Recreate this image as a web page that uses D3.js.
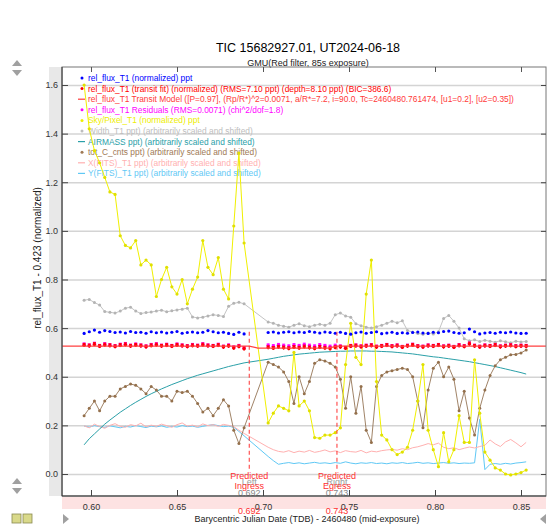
<!DOCTYPE html>
<html>
<head>
<meta charset="utf-8">
<script src="https://cdn.jsdelivr.net/npm/d3@7"></script>
<style>
  body { margin: 0; background: #fff; }
  svg { display: block; font-family: "Liberation Sans", Arial, sans-serif; }
</style>
</head>
<body>
<div id="chart"></div>
<script>
// ---- data ----
const bjd = [
  0.596,0.599,0.602,0.605,0.608,0.611,0.614,0.617,0.620,0.623,
  0.626,0.629,0.632,0.635,0.638,0.641,0.644,0.647,0.650,0.653,
  0.656,0.659,0.662,0.665,0.668,0.671,0.674,0.677,0.680,0.683,
  0.686,0.689,
  0.703,0.706,0.709,0.712,0.715,0.718,0.721,0.724,0.727,0.730,
  0.733,0.736,0.739,0.742,0.745,0.748,0.751,0.754,0.757,0.760,
  0.763,0.766,0.769,0.772,0.775,0.778,0.781,0.784,0.787,0.790,
  0.793,0.796,0.799,0.802,0.805,0.808,0.811,0.814,0.817,0.820,
  0.823,0.826,0.829,0.832,0.835,0.838,0.841,0.844,0.847,0.850,
  0.853
];

const relFlux = [
  0.578,0.585,0.592,0.583,0.590,0.586,0.582,0.584,0.580,0.586,
  0.582,0.583,0.579,0.585,0.581,0.584,0.580,0.583,0.586,0.579,
  0.582,0.584,0.581,0.583,0.590,0.585,0.581,0.583,0.578,0.574,
  0.583,0.576,
  0.582,0.584,0.580,0.583,0.585,0.581,0.584,0.582,0.586,0.583,
  0.580,0.584,0.582,0.579,0.583,0.578,0.575,0.581,0.584,0.579,
  0.582,0.585,0.577,0.580,0.583,0.578,0.581,0.579,0.582,0.584,
  0.580,0.578,0.583,0.581,0.586,0.588,0.582,0.579,0.581,0.596,
  0.585,0.576,0.580,0.582,0.579,0.583,0.581,0.584,0.580,0.578,
  0.579
];

const fitFlux = [
  0.530,0.527,0.533,0.525,0.531,0.528,0.524,0.529,0.532,0.526,
  0.530,0.527,0.523,0.528,0.531,0.526,0.529,0.525,0.530,0.527,
  0.524,0.528,0.526,0.531,0.527,0.525,0.529,0.522,0.526,0.518,
  0.524,0.515,
  0.520,0.517,0.522,0.519,0.516,0.521,0.518,0.523,0.519,0.516,
  0.521,0.518,0.515,0.520,0.522,0.517,0.525,0.527,0.523,0.526,
  0.528,0.522,0.525,0.529,0.524,0.527,0.521,0.526,0.530,0.524,
  0.522,0.527,0.525,0.529,0.523,0.526,0.521,0.528,0.524,0.535,
  0.526,0.522,0.527,0.525,0.529,0.523,0.526,0.528,0.524,0.526,
  0.525
];

const residuals = [
  0.532,0.528,0.535,0.526,0.533,0.529,0.525,0.531,0.534,0.527,
  0.532,0.528,0.524,0.530,0.533,0.527,0.531,0.526,0.532,0.528,
  0.525,0.530,0.527,0.533,0.528,0.526,0.531,0.523,0.528,0.520,
  0.526,0.517,
  0.528,0.525,0.530,0.527,0.524,0.529,0.526,0.531,0.527,0.524,
  0.529,0.526,0.523,0.527,0.524,0.518,0.526,0.528,0.524,0.527,
  0.529,0.523,0.526,0.530,0.525,0.528,0.522,0.527,0.531,0.525,
  0.523,0.528,0.526,0.530,0.524,0.527,0.522,0.529,0.525,0.536,
  0.527,0.523,0.528,0.526,0.530,0.524,0.527,0.529,0.525,0.527,
  0.526
];
const fluxErr = 0.0071;

// transit model (flat, 8.1 ppt deep between ingress and egress)
const modelTime = [0.5832, 0.692, 0.697, 0.738, 0.743, 0.8645];
const modelFlux = [0.526, 0.526, 0.518, 0.518, 0.526, 0.526];

const skyPixel = [
  1.60,1.42,1.33,1.28,1.22,1.16,1.15,0.98,0.94,0.93,
  0.96,0.86,0.88,0.86,0.73,0.80,0.85,0.77,0.74,0.80,
  0.70,0.76,0.81,0.96,0.85,0.82,0.89,0.76,0.72,1.02,
  1.32,0.95,
  0.21,0.25,0.28,0.27,0.26,0.50,0.28,0.30,0.26,0.15,
  0.147,0.16,0.16,0.17,0.19,0.45,0.62,0.48,0.45,0.74,
  0.88,0.38,0.16,0.14,0.10,0.08,0.09,0.11,0.18,0.30,
  0.45,0.18,0.10,0.03,0.17,0.05,0.10,0.24,0.13,0.13,
  0.47,0.25,0.09,0.057,0.025,0.016,0.0,-0.004,0.0,0.006,
  0.016
];

const width = [
  0.715,0.718,0.705,0.695,0.668,0.665,0.662,0.670,0.682,0.686,
  0.670,0.660,0.664,0.666,0.670,0.674,0.667,0.671,0.675,0.678,
  0.682,0.646,0.642,0.645,0.650,0.655,0.652,0.648,0.690,0.702,
  0.706,0.700,
  0.625,0.620,0.612,0.608,0.604,0.612,0.618,0.610,0.606,0.612,
  0.616,0.612,0.620,0.655,0.662,0.650,0.645,0.618,0.610,0.604,
  0.600,0.606,0.612,0.620,0.628,0.622,0.630,0.590,0.584,0.578,
  0.575,0.580,0.576,0.585,0.640,0.652,0.628,0.600,0.556,0.548,
  0.552,0.545,0.550,0.546,0.542,0.548,0.544,0.540,0.546,0.543,
  0.545
];

const airmass = [
  0.120,0.145,0.165,0.185,0.205,0.222,0.238,0.254,0.268,0.282,
  0.295,0.307,0.319,0.330,0.340,0.350,0.359,0.368,0.376,0.384,
  0.392,0.399,0.406,0.412,0.418,0.424,0.430,0.436,0.442,0.447,
  0.452,0.457,
  0.472,0.476,0.480,0.484,0.487,0.490,0.493,0.495,0.497,0.499,
  0.501,0.502,0.503,0.504,0.505,0.505,0.506,0.506,0.506,0.506,
  0.505,0.505,0.504,0.503,0.502,0.500,0.498,0.496,0.494,0.491,
  0.488,0.485,0.482,0.480,0.477,0.474,0.471,0.468,0.465,0.462,
  0.458,0.454,0.450,0.446,0.442,0.437,0.432,0.427,0.422,0.417,
  0.411
];

const totCnts = [
  0.24,0.27,0.30,0.26,0.30,0.32,0.32,0.35,0.36,0.37,
  0.365,0.35,0.33,0.36,0.345,0.32,0.32,0.30,0.34,0.335,
  0.34,0.32,0.29,0.255,0.27,0.24,0.27,0.305,0.28,0.18,
  0.125,0.19,
  0.46,0.45,0.44,0.42,0.38,0.29,0.40,0.33,0.38,0.455,
  0.47,0.465,0.455,0.44,0.39,0.27,0.40,0.25,0.36,0.18,
  0.13,0.36,0.405,0.42,0.425,0.43,0.435,0.43,0.40,0.30,
  0.19,0.345,0.435,0.46,0.40,0.44,0.39,0.26,0.34,0.23,
  0.16,0.27,0.345,0.405,0.445,0.47,0.48,0.49,0.492,0.498,
  0.51
];

const xFits = [
  0.198,0.190,0.205,0.195,0.188,0.200,0.207,0.196,0.192,0.203,
  0.198,0.209,0.194,0.201,0.196,0.205,0.199,0.192,0.203,0.210,
  0.197,0.201,0.194,0.206,0.199,0.203,0.196,0.204,0.200,0.195,
  0.180,0.167,
  0.110,0.100,0.093,0.090,0.096,0.088,0.094,0.090,0.097,0.089,
  0.093,0.099,0.091,0.095,0.088,0.096,0.092,0.090,0.097,0.087,
  0.094,0.091,0.096,0.099,0.101,0.098,0.104,0.100,0.108,0.112,
  0.118,0.125,0.120,0.127,0.110,0.104,0.108,0.100,0.106,0.111,
  0.107,0.113,0.118,0.140,0.124,0.113,0.132,0.142,0.128,0.112,
  0.130
];

const yFits = [
  0.197,0.193,0.199,0.195,0.192,0.198,0.194,0.190,0.196,0.193,
  0.199,0.195,0.191,0.197,0.194,0.198,0.192,0.196,0.193,0.199,
  0.195,0.197,0.192,0.196,0.200,0.203,0.199,0.195,0.197,0.192,
  0.175,0.157,
  0.072,0.055,0.040,0.044,0.047,0.043,0.046,0.042,0.045,0.048,
  0.044,0.046,0.043,0.047,0.044,0.050,0.045,0.042,0.046,0.044,
  0.047,0.043,0.045,0.042,0.046,0.044,0.047,0.043,0.045,0.048,
  0.044,0.046,0.043,0.045,0.047,0.044,0.046,0.043,0.045,0.044,
  0.046,0.225,0.018,0.040,0.043,0.040,0.044,0.041,0.045,0.047,
  0.050
];

const ingress = 0.692, egress = 0.743;
const yTicks = [0.0, 0.2, 0.4, 0.6, 0.8, 1.0, 1.2, 1.4, 1.6];
const xTicks = [0.60, 0.65, 0.70, 0.75, 0.80, 0.85];

const legendItems = [
  {label: 'rel_flux_T1 (normalized) ppt', color: '#0000ff', kind: 'dot'},
  {label: 'rel_flux_T1 (transit fit) (normalized) (RMS=7.10 ppt) (depth=8.10 ppt) (BIC=386.6)', color: '#ff0000', kind: 'dot'},
  {label: 'rel_flux_T1 Transit Model ([P=0.97], (Rp/R*)^2=0.0071, a/R*=7.2, i=90.0, Tc=2460480.761474, [u1=0.2], [u2=0.35])', color: '#ff3a3a', kind: 'line'},
  {label: 'rel_flux_T1 Residuals (RMS=0.0071) (chi^2/dof=1.8)', color: '#ff00ff', kind: 'dot'},
  {label: 'Sky/Pixel_T1 (normalized) ppt', color: '#eeee00', kind: 'dot'},
  {label: 'Width_T1 ppt) (arbitrarily scaled and shifted)', color: '#bdbdbd', kind: 'dot'},
  {label: 'AIRMASS ppt) (arbitrarily scaled and shifted)', color: '#2aa0a8', kind: 'line'},
  {label: 'tot_C_cnts ppt) (arbitrarily scaled and shifted)', color: '#a07a55', kind: 'dot'},
  {label: 'X(FITS)_T1 ppt) (arbitrarily scaled and shifted)', color: '#ffb0b0', kind: 'line'},
  {label: 'Y(FITS)_T1 ppt) (arbitrarily scaled and shifted)', color: '#5fc8f5', kind: 'line'}
];

// ---- layout ----
const W = 548, H = 525;
const pl = 62, pr = 546, pt = 67, pb = 496;

const x = d3.scaleLinear().domain([0.58314, 0.86453]).range([pl, pr]);
const y = d3.scaleLinear().domain([-0.0905, 1.674]).range([pb, pt]);

const svg = d3.select('#chart').append('svg')
  .attr('width', W).attr('height', H);

// gray band behind y labels, pink band behind x labels
svg.append('rect').attr('x', 49).attr('y', pt).attr('width', 12).attr('height', pb - pt)
  .attr('fill', '#e8e8e8');
svg.append('rect').attr('x', pl).attr('y', pb + 1).attr('width', pr - pl).attr('height', 12)
  .attr('fill', '#fde2e2');

// grid
svg.append('g').attr('transform', `translate(${pl},0)`)
  .call(d3.axisLeft(y).tickValues(yTicks).tickSize(-(pr - pl)).tickFormat(''))
  .call(g => g.select('.domain').remove())
  .call(g => g.selectAll('line').attr('stroke', '#d4d4d4').attr('stroke-width', 1.5));

// title
svg.append('text').attr('x', 308).attr('y', 52).attr('text-anchor', 'middle')
  .attr('font-size', 12.5).attr('fill', '#000').text('TIC 15682927.01, UT2024-06-18');
svg.append('text').attr('x', 308).attr('y', 66).attr('text-anchor', 'middle')
  .attr('font-size', 9).attr('fill', '#222').text('GMU(Red filter, 85s exposure)');

// legend (drawn below the data)
const leg = svg.append('g');
legendItems.forEach((d, i) => {
  const ly = 78 + i * 10.6;
  if (d.kind === 'dot') {
    leg.append('circle').attr('cx', 82).attr('cy', ly).attr('r', 1.5).attr('fill', d.color);
  } else {
    leg.append('line').attr('x1', 78).attr('x2', 85).attr('y1', ly).attr('y2', ly)
      .attr('stroke', d.color).attr('stroke-width', 1.2);
  }
  leg.append('text').attr('x', 88).attr('y', ly + 3).attr('font-size', 8.4)
    .attr('fill', d.color).text(d.label);
});

const rows = bjd.map((t, i) => ({t, i}));
const line = arr => d3.line().x(d => x(d.t)).y(d => y(arr[d.i]));

function drawLine(arr, color, w, op) {
  svg.append('path').datum(rows).attr('d', line(arr))
    .attr('fill', 'none').attr('stroke', color).attr('stroke-width', w)
    .attr('stroke-opacity', op || 1);
}
function drawDots(arr, color, r) {
  svg.append('g').selectAll('circle').data(rows).join('circle')
    .attr('cx', d => x(d.t)).attr('cy', d => y(arr[d.i])).attr('r', r).attr('fill', color);
}
function drawErr(arr, color) {
  const g = svg.append('g').attr('stroke', color).attr('stroke-width', 1);
  g.selectAll('line.v').data(rows).join('line').attr('class', 'v')
    .attr('x1', d => x(d.t)).attr('x2', d => x(d.t))
    .attr('y1', d => y(arr[d.i] - fluxErr)).attr('y2', d => y(arr[d.i] + fluxErr));
  g.selectAll('line.c').data(rows).join('line').attr('class', 'c')
    .attr('x1', d => x(d.t) - 1.5).attr('x2', d => x(d.t) + 1.5)
    .attr('y1', d => y(arr[d.i] + fluxErr)).attr('y2', d => y(arr[d.i] + fluxErr));
}

// series
drawLine(yFits, '#5fc8f5', 1);
drawLine(xFits, '#ffb0b0', 1);
drawLine(airmass, '#2aa0a8', 1);
drawLine(totCnts, '#8f6d4c', 1, 0.85);
drawDots(totCnts, '#94704c', 1.5);
drawLine(width, '#c4c4c4', 1);
drawDots(width, '#b4b4b4', 1.5);
drawLine(skyPixel, '#f0f000', 1);
drawDots(skyPixel, '#e0e000', 1.6);
drawErr(residuals, '#ff00ff');
drawDots(residuals, '#ff00ff', 1.8);
drawErr(fitFlux, '#ff0000');
drawDots(fitFlux, '#ff0000', 1.7);

svg.append('path').datum(modelTime.map((t, i) => ({t, v: modelFlux[i]})))
  .attr('d', d3.line().x(d => x(d.t)).y(d => y(d.v)))
  .attr('fill', 'none').attr('stroke', '#ff4040').attr('stroke-width', 1.2);

drawDots(relFlux, '#0000ff', 1.6);

// predicted ingress / egress markers
[[ingress, 'Ingress', 'Left'], [egress, 'Egress', 'Right']].forEach(([t, name, side]) => {
  const cx = x(t);
  svg.append('line').attr('x1', cx).attr('x2', cx)
    .attr('y1', y(0.585)).attr('y2', y(0.018))
    .attr('stroke', '#ff3030').attr('stroke-width', 1).attr('stroke-dasharray', '4,3');
  svg.append('text').attr('x', cx).attr('y', 485).attr('text-anchor', 'middle')
    .attr('font-size', 9).attr('fill', '#999').text(side);
  svg.append('text').attr('x', cx).attr('y', 496).attr('text-anchor', 'middle')
    .attr('font-size', 9).attr('fill', '#888').text(d3.format('.3f')(t));
  svg.append('text').attr('x', cx).attr('y', 479).attr('text-anchor', 'middle')
    .attr('font-size', 9).attr('fill', '#ff3030').text('Predicted');
  svg.append('text').attr('x', cx).attr('y', 489).attr('text-anchor', 'middle')
    .attr('font-size', 9).attr('fill', '#ff3030').text(name);
  svg.append('text').attr('x', cx).attr('y', 514).attr('text-anchor', 'middle')
    .attr('font-size', 9).attr('fill', '#ff3030').text(d3.format('.3f')(t));
});

// frame
svg.append('rect').attr('x', pl).attr('y', pt).attr('width', pr - pl).attr('height', pb - pt)
  .attr('fill', 'none').attr('stroke', '#777').attr('stroke-width', 1);
svg.append('line').attr('x1', pl).attr('x2', pl).attr('y1', pt).attr('y2', pb)
  .attr('stroke', '#333');
svg.append('line').attr('x1', pl).attr('x2', pr).attr('y1', pb).attr('y2', pb)
  .attr('stroke', '#333');

// axes
svg.append('g').attr('transform', `translate(${pl},0)`)
  .call(d3.axisLeft(y).tickValues(yTicks).tickSize(-6).tickPadding(4).tickFormat(d3.format('.1f')))
  .call(g => g.select('.domain').remove())
  .call(g => g.selectAll('line').attr('stroke', '#444'))
  .call(g => g.selectAll('text').attr('font-size', 9).attr('fill', '#333')
    .attr('font-family', '"Liberation Sans", Arial, sans-serif'));

svg.append('g').attr('transform', `translate(${pr},0)`)
  .call(d3.axisLeft(y).tickValues(yTicks).tickSize(5).tickFormat(''))
  .call(g => g.select('.domain').remove())
  .call(g => g.selectAll('line').attr('stroke', '#444'));

svg.append('g').attr('transform', `translate(0,${pb})`)
  .call(d3.axisBottom(x).tickValues(xTicks).tickSize(-6).tickPadding(8).tickFormat(d3.format('.2f')))
  .call(g => g.select('.domain').remove())
  .call(g => g.selectAll('line').attr('stroke', '#444'))
  .call(g => g.selectAll('text').attr('font-size', 9).attr('fill', '#333')
    .attr('font-family', '"Liberation Sans", Arial, sans-serif'));

svg.append('g').attr('transform', `translate(0,${pt})`)
  .call(d3.axisTop(x).tickValues(xTicks).tickSize(-5).tickFormat(''))
  .call(g => g.select('.domain').remove())
  .call(g => g.selectAll('line').attr('stroke', '#555'));

// axis titles
svg.append('text').attr('transform', 'translate(41,258) rotate(-90)')
  .attr('text-anchor', 'middle').attr('font-size', 10).attr('fill', '#222')
  .text('rel_flux_T1 - 0.423 (normalized)');
svg.append('text').attr('x', 307).attr('y', 522).attr('text-anchor', 'middle')
  .attr('font-size', 9).attr('fill', '#222')
  .text('Barycentric Julian Date (TDB) - 2460480 (mid-exposure)');

// little scroll controls
const tri = (cx, cy, dir) => {
  const s = 5;
  const pts = dir === 'up' ? [[cx - s, cy + 3], [cx + s, cy + 3], [cx, cy - 3]]
    : dir === 'down' ? [[cx - s, cy - 3], [cx + s, cy - 3], [cx, cy + 3]]
    : dir === 'right' ? [[cx - 3, cy - 5], [cx - 3, cy + 5], [cx + 3, cy]]
    : [[cx + 3, cy - 5], [cx + 3, cy + 5], [cx - 3, cy]];
  svg.append('polygon').attr('points', pts.map(p => p.join(',')).join(' ')).attr('fill', '#a0a0a0');
};
tri(17, 63, 'up'); tri(17, 73, 'down');
tri(17, 481, 'up'); tri(17, 491, 'down');
tri(66, 519, 'right'); tri(543, 519, 'left');
[12, 23].forEach(bx => {
  svg.append('rect').attr('x', bx).attr('y', 514).attr('width', 9).attr('height', 9)
    .attr('fill', '#d9d98a').attr('stroke', '#8a8a50').attr('stroke-width', 0.8);
});
</script>
</body>
</html>
